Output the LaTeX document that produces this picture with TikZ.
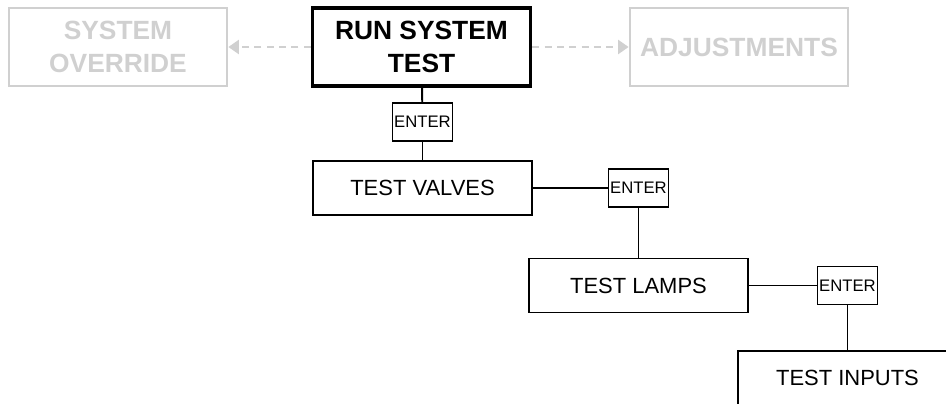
\documentclass[tikz,border=0pt]{standalone}
\usepackage{fontspec}
\setmainfont{Liberation Sans}
\usetikzlibrary{arrows.meta, positioning}
\definecolor{faded}{HTML}{D0D0D0}

\begin{document}
\begin{tikzpicture}[
	x=0.02cm, y=-0.02cm,
	top/.style={draw, align=center, minimum width=4.36cm, minimum height=1.56cm, inner sep=2pt, font=\bfseries\fontsize{15}{19}\selectfont},
	menu/.style={top, draw=faded, text=faded, line width=1.6pt},
	current/.style={top, line width=2.2pt},
	box/.style={draw, line width=1pt, minimum width=4.38cm, minimum height=1.08cm, inner sep=2pt, font=\fontsize{12.5}{14}\selectfont},
	key/.style={draw, line width=1pt, minimum width=1.18cm, minimum height=0.76cm, inner sep=1pt, font=\fontsize{9.5}{11}\selectfont},
	link/.style={line width=1.1pt},
	scroll/.style={faded, line width=1.3pt, dash pattern=on 4pt off 3pt, -{Triangle[length=6pt, width=8pt]}}
]
\path[use as bounding box, clip] (0,0) rectangle (946,403);

% Nodes
\node[menu] (override) at (118,47) {SYSTEM\\OVERRIDE};
\node[current] (run) at (421.5,47) {RUN SYSTEM\\TEST};
\node[menu] (adjust) at (739,47) {ADJUSTMENTS};
\node[key] (enter1) at (422.5,122) {ENTER};
\node[box] (valves) at (422.5,188) {TEST VALVES};
\node[key] (enter2) at (638.5,188) {ENTER};
\node[box] (lamps) at (638.5,285.5) {TEST LAMPS};
\node[key] (enter3) at (847.5,285.5) {ENTER};
\node[box] (inputs) at (847.5,378) {TEST INPUTS};

% Edges
\draw[scroll] (run) -- (override);
\draw[scroll] (run) -- (adjust);
\draw[link] (run) -- (enter1);
\draw[link] (enter1) -- (valves);
\draw[link] (valves) -- (enter2);
\draw[link] (enter2) -- (lamps);
\draw[link] (lamps) -- (enter3);
\draw[link] (enter3) -- (inputs);

\end{tikzpicture}
\end{document}
